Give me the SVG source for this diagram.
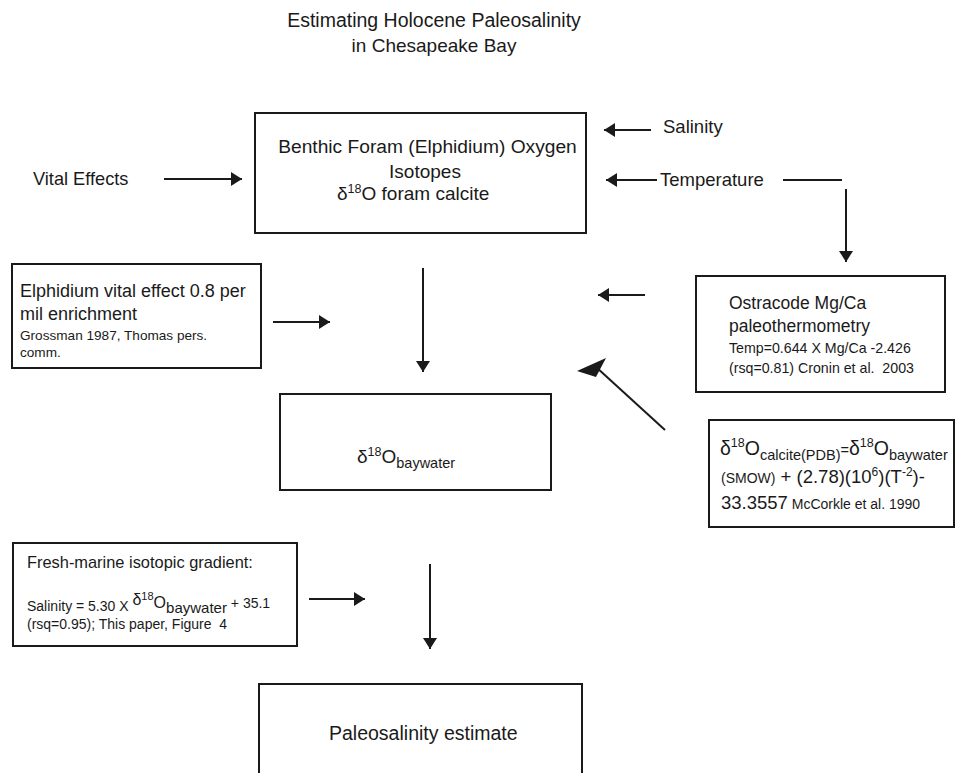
<svg xmlns="http://www.w3.org/2000/svg" width="956" height="773" viewBox="0 0 956 773">
<style>
.box{fill:none;stroke:#1a1a1a;stroke-width:2}
.ln{stroke:#1a1a1a;stroke-width:2;fill:none}
.arr{stroke:#1a1a1a;stroke-width:2;fill:none;marker-end:url(#ah)}
text{font-family:"Liberation Sans",Arial,sans-serif;fill:#1a1a1a}
.mid{text-anchor:middle}
</style>
<defs>
<marker id="ah" markerUnits="userSpaceOnUse" viewBox="0 0 12 14" markerWidth="12" markerHeight="14" refX="11" refY="7" orient="auto">
<path d="M0,0 L11,7 L0,14 z" fill="#1a1a1a"/>
</marker>
</defs>
<g id="title">
<text class="mid" x="434" y="27" font-size="19.5">Estimating Holocene Paleosalinity</text>
<text class="mid" x="434" y="52" font-size="19">in Chesapeake Bay</text>
</g>
<g id="vital-effects">
<text x="33" y="185" font-size="18.2">Vital Effects</text>
</g>
<g id="salinity">
<text x="663" y="133" font-size="18.5">Salinity</text>
</g>
<g id="temperature">
<text x="660" y="186" font-size="18.5">Temperature</text>
</g>
<g id="foram">
<rect class="box" x="255" y="113" width="331" height="120"/>
<text class="mid" x="427.5" y="153" font-size="19.2">Benthic Foram (Elphidium) Oxygen</text>
<text class="mid" x="425" y="178" font-size="19">Isotopes</text>
<text x="337" y="200" font-size="19">δ<tspan font-size="12.5" dy="-7">18</tspan><tspan dy="7">O foram calcite</tspan></text>
</g>
<g id="elphidium">
<rect class="box" x="12" y="264" width="249" height="104"/>
<text x="20" y="297" font-size="18">Elphidium vital effect 0.8 per</text>
<text x="20" y="320" font-size="18">mil enrichment</text>
<text x="20" y="340" font-size="13.6">Grossman 1987, Thomas pers.</text>
<text x="20" y="357" font-size="13.6">comm.</text>
</g>
<g id="ostracode">
<rect class="box" x="696" y="276" width="249" height="116"/>
<text x="729" y="309" font-size="17.5">Ostracode Mg/Ca</text>
<text x="729" y="332" font-size="17.5">paleothermometry</text>
<text x="729" y="353" font-size="14.2">Temp=0.644 X Mg/Ca -2.426</text>
<text x="729" y="373" font-size="14.2">(rsq=0.81) Cronin et al.&#160; 2003</text>
</g>
<g id="baywater">
<rect class="box" x="280" y="394" width="271" height="96"/>
<text x="357" y="463" font-size="19">δ<tspan font-size="12.5" dy="-7">18</tspan><tspan dy="7">O</tspan><tspan font-size="14.5" dy="5">baywater</tspan></text>
</g>
<g id="mccorkle">
<rect class="box" x="709" y="420" width="245" height="107"/>
<text x="720" y="455" font-size="19.5">δ<tspan font-size="12.5" dy="-8">18</tspan><tspan dy="8">O</tspan><tspan font-size="14.5" dy="5">calcite(PDB)</tspan><tspan font-size="14.5" dy="-5">=</tspan>δ<tspan font-size="12.5" dy="-8">18</tspan><tspan dy="8">O</tspan><tspan font-size="14.5" dy="5">baywater</tspan></text>
<text x="721" y="483" font-size="18.5"><tspan font-size="14">(SMOW)</tspan> + (2.78)(10<tspan font-size="12" dy="-7">6</tspan><tspan dy="7">)(T</tspan><tspan font-size="12" dy="-7">-2</tspan><tspan dy="7">)-</tspan></text>
<text x="721" y="509" font-size="18.5">33.3557<tspan font-size="14"> McCorkle et al. 1990</tspan></text>
</g>
<g id="fresh-marine">
<rect class="box" x="13" y="543" width="284" height="103"/>
<text x="27" y="568" font-size="16.4">Fresh-marine isotopic gradient:</text>
<text x="27" y="611" font-size="14">Salinity = 5.30 X <tspan font-size="16" dy="-6">δ</tspan><tspan font-size="11" dy="-5">18</tspan><tspan font-size="16" dy="8">O</tspan><tspan font-size="15" dy="5">baywater</tspan><tspan dy="-5"> + 35.1</tspan></text>
<text x="27" y="629" font-size="14">(rsq=0.95); This paper, Figure&#160; 4</text>
</g>
<g id="paleosalinity">
<rect class="box" x="259" y="684" width="323" height="110"/>
<text x="329" y="740" font-size="19.5">Paleosalinity estimate</text>
</g>
<g id="connectors">
<line class="arr" x1="164" y1="179" x2="242" y2="179"/>
<line class="arr" x1="651" y1="130" x2="604" y2="130"/>
<line class="arr" x1="657" y1="180" x2="606" y2="180"/>
<line class="ln" x1="783" y1="180" x2="842" y2="180"/>
<line class="arr" x1="846" y1="189" x2="846" y2="262"/>
<line class="arr" x1="645" y1="295" x2="598" y2="295"/>
<line class="arr" x1="273" y1="322" x2="330" y2="322"/>
<line class="arr" x1="423" y1="268" x2="423" y2="372"/>
<line class="ln" x1="665" y1="430" x2="596" y2="367"/>
<polygon points="577,371 606,358 596,377" fill="#1a1a1a"/>
<line class="arr" x1="309" y1="599" x2="365" y2="599"/>
<line class="arr" x1="430" y1="564" x2="430" y2="649"/>
</g>
</svg>
